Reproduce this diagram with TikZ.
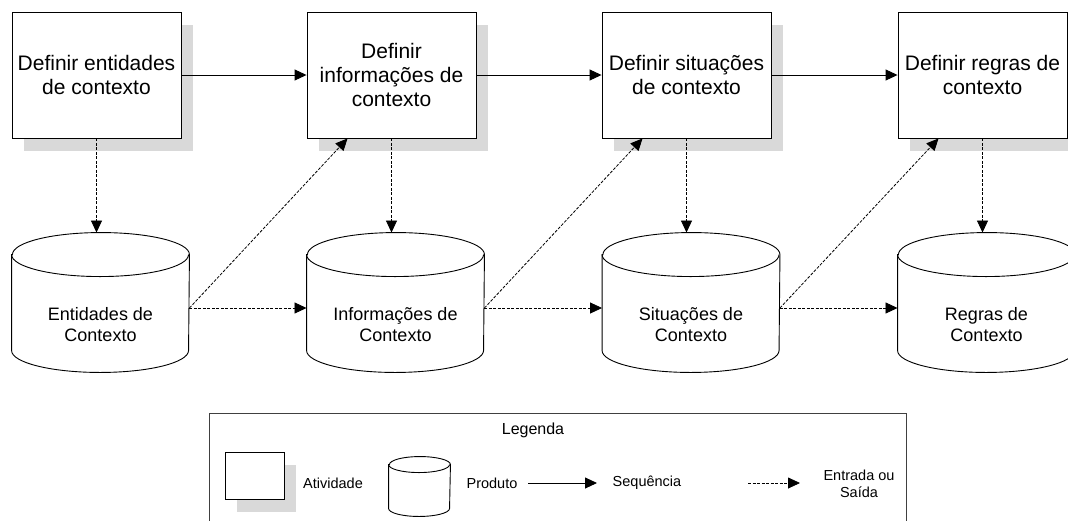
\documentclass[tikz,border=0pt]{standalone}
\usepackage{fontspec}
\setmainfont{Liberation Sans}
\usetikzlibrary{arrows.meta,calc,shadows}
\def\drum(#1)(#2:#3){\draw[fill=white] ($(#1.north west)+(0,#3)$) -- ($(#1.south west)+(0,-#3)$) arc[start angle=180, end angle=0, x radius=#2, y radius=#3] -- ($(#1.north east)+(0,#3)$) arc[start angle=0, end angle=-180, x radius=#2, y radius=#3] -- cycle;
	\draw ($(#1.north west)+(0,#3)$) arc[start angle=180, end angle=0, x radius=#2, y radius=#3];}
\tikzset{
	act/.style={draw, fill=white, minimum width=169pt, minimum height=126pt, inner sep=0pt, align=center,
		font=\fontsize{21}{24}\selectfont,
		drop shadow={shadow xshift=12pt, shadow yshift=-13pt, fill=black!15, opacity=1}},
	prod/.style={minimum width=177pt, minimum height=139pt, inner sep=0pt},
	prodtxt/.style={align=center, font=\fontsize{18}{21}\selectfont},
	seq/.style={-{Triangle[length=12pt,width=11pt]}},
	io/.style={-{Triangle[length=12pt,width=11pt]}, line width=0.8pt, dash pattern=on 3pt off 1.5pt},
	lbl/.style={font=\fontsize{14.5}{17}\selectfont, align=center},
}

\begin{document}
\begin{tikzpicture}[x=1pt, y=-1pt, line width=0.9pt]
			%%%%% START %%%%%
			\useasboundingbox (0,0) rectangle (1068,520);
			
			\node[act] (defEnt) at (96.5, 75) {Definir entidades\\de contexto};
			\node[act] (defInf) at (391.5, 75) {Definir\\informações de\\contexto};
			\node[act] (defSit) at (686.5, 75) {Definir situações\\de contexto};
			\node[act] (defReg) at (982.5, 75) {Definir regras de\\contexto};
			
			\node[prod] (ent) at (100.5, 302.5) {};
			\node[prod] (inf) at (395.5, 302.5) {};
			\node[prod] (sit) at (691, 302.5) {};
			\node[prod] (reg) at (986.5, 302.5) {};
			\drum(ent)(88.5:22);
			\drum(inf)(88.5:22);
			\drum(sit)(88.5:22);
			\drum(reg)(88.5:22);
			\node[prodtxt] (entT) at ($(ent)+(0,22)$) {Entidades de\\Contexto};
			\node[prodtxt] (infT) at ($(inf)+(0,22)$) {Informações de\\Contexto};
			\node[prodtxt] (sitT) at ($(sit)+(0,22)$) {Situações de\\Contexto};
			\node[prodtxt] (regT) at ($(reg)+(0,22)$) {Regras de\\Contexto};
			
			\draw[seq] (defEnt) -- (defInf);
			\draw[seq] (defInf) -- (defSit);
			\draw[seq] (defSit) -- (defReg);
			
			\draw[io] (defEnt.south) -- (defEnt.south |- ent.north);
			\draw[io] (defInf.south) -- (defInf.south |- inf.north);
			\draw[io] (defSit.south) -- (defSit.south |- sit.north);
			\draw[io] (defReg.south) -- (defReg.south |- reg.north);
			
			\draw[io] ($(ent.east)+(0,5.5)$) -- ($(inf.west)+(0,5.5)$);
			\draw[io] ($(inf.east)+(0,5.5)$) -- ($(sit.west)+(0,5.5)$);
			\draw[io] ($(sit.east)+(0,5.5)$) -- ($(reg.west)+(0,5.5)$);
			
			\draw[io] ($(ent.east)+(0,5.5)$) -- ($(defInf.south west)+(41,0)$);
			\draw[io] ($(inf.east)+(0,5.5)$) -- ($(defSit.south west)+(41,0)$);
			\draw[io] ($(sit.east)+(0,5.5)$) -- ($(defReg.south west)+(41,0)$);
			
			% legenda
			\node[draw=black!75, minimum width=697pt, minimum height=130pt, anchor=north] (leg) at (557.5, 413) {};
			\node[lbl, font=\fontsize{16}{19}\selectfont] (legTit) at (533, 430) {Legenda};
			\node[act, minimum width=59pt, minimum height=47pt] (legAct) at (254.5, 475.5) {};
			\node[lbl] (legActT) at (333, 483) {Atividade};
			\node[prod, minimum width=61pt, minimum height=59pt] (legProd) at (419.5, 486.5) {};
			\drum(legProd)(30.5:8);
			\node[lbl] (legProdT) at (492, 483) {Produto};
			\coordinate (seqA) at (528, 483);
			\coordinate (seqB) at (597, 483);
			\draw[seq] (seqA) -- (seqB);
			\node[lbl] (legSeqT) at (647, 483) {Sequência};
			\coordinate (ioA) at (748, 483);
			\coordinate (ioB) at (800, 483);
			\draw[io] (ioA) -- (ioB);
			\node[lbl] (legIoT) at (859, 483.5) {Entrada ou\\Saída};
			
			%%%%% END %%%%%
\end{tikzpicture}
\end{document}
